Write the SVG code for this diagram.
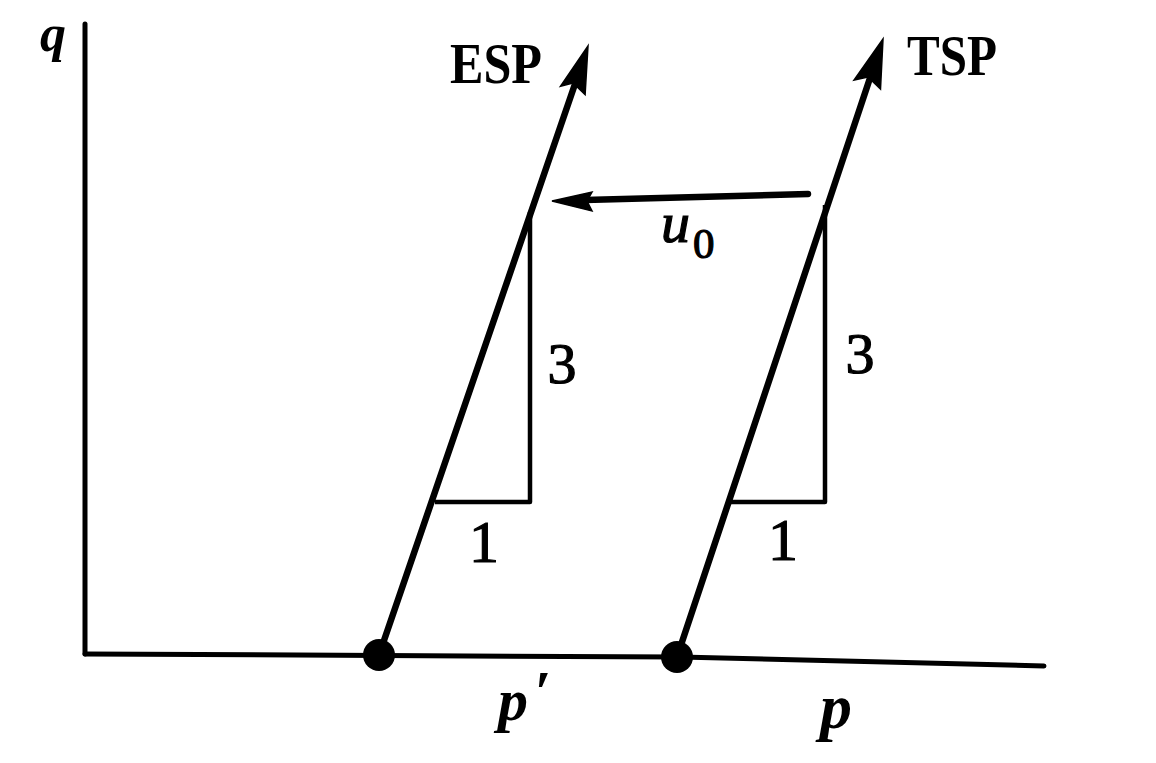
<svg xmlns="http://www.w3.org/2000/svg" width="1156" height="763" viewBox="0 0 1156 763">
  <style>
    .ax { fill: none; stroke: #000; stroke-width: 5; stroke-linecap: round; stroke-linejoin: round; }
    .ln { fill: none; stroke: #000; stroke-width: 6.5; stroke-linecap: round; }
    .tri { fill: none; stroke: #000; stroke-width: 4.5; stroke-linejoin: round; }
    .head { fill: #000; stroke: #000; stroke-width: 1.5; stroke-linejoin: miter; }
    .lbl { font-family: "Liberation Serif", "Times New Roman", serif; fill: #000; }
    .num { stroke: #000; stroke-width: 1.2; }
    .bold { font-weight: bold; }
    .it { font-style: italic; }
  </style>
  <rect width="1156" height="763" fill="#fff"/>

  <g id="axes">
    <line class="ax" x1="85" y1="24" x2="85" y2="654"/>
    <polyline class="ax" points="85,654 680,657 1044,666"/>
    <text class="lbl it bold" x="40" y="51" font-size="52">q</text>
    <text class="lbl it bold" x="498" y="720" font-size="60">p<tspan x="534" y="712">′</tspan></text>
    <text class="lbl it bold" x="820" y="728" font-size="64">p</text>
  </g>

  <g id="esp">
    <line class="ln" x1="379" y1="655" x2="575" y2="84"/>
    <polygon class="head" points="588,46 560.5,86.3 573,83 585.1,94.7"/>
    <circle cx="379" cy="655" r="16" fill="#000"/>
    <polyline class="tri" points="435,502 530,502 530,212"/>
    <text class="lbl num" x="562" y="383" font-size="58" text-anchor="middle">3</text>
    <text class="lbl num" x="484" y="562" font-size="60" text-anchor="middle">1</text>
    <text class="lbl bold" x="450" y="83" font-size="56" textLength="92" lengthAdjust="spacingAndGlyphs">ESP</text>
  </g>

  <g id="tsp">
    <line class="ln" x1="677" y1="657" x2="870" y2="78"/>
    <polygon class="head" points="883,39 854,80 868,77 880.5,89"/>
    <circle cx="677" cy="657" r="16" fill="#000"/>
    <polyline class="tri" points="730,502 825,502 825,205"/>
    <text class="lbl num" x="860" y="373" font-size="58" text-anchor="middle">3</text>
    <text class="lbl num" x="783" y="560" font-size="60" text-anchor="middle">1</text>
    <text class="lbl bold" x="907" y="75" font-size="56" textLength="90" lengthAdjust="spacingAndGlyphs">TSP</text>
  </g>

  <g id="connectors">
    <line class="ln" x1="808" y1="194" x2="585" y2="200" stroke-width="5"/>
    <polygon class="head" points="552,201 592,192 587,201 592,211"/>
    <text class="lbl it num" x="661" y="242" font-size="58">u</text>
    <text class="lbl num" x="693" y="258" font-size="43">0</text>
  </g>
</svg>
